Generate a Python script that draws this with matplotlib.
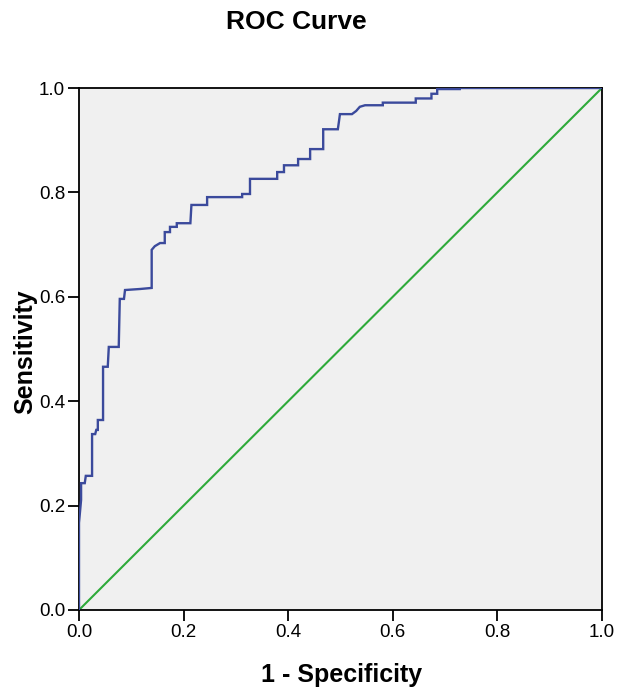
import matplotlib
matplotlib.use("Agg")
import matplotlib.pyplot as plt

# ROC step vertices (1 - specificity, sensitivity)
fpr = [0.000, 0.000, 0.004, 0.004, 0.011, 0.013, 0.025, 0.025, 0.031, 0.033,
       0.036, 0.036, 0.046, 0.046, 0.055, 0.057, 0.076, 0.078, 0.086, 0.088,
       0.117, 0.139, 0.139, 0.145, 0.155, 0.164, 0.164, 0.174, 0.174, 0.187,
       0.187, 0.213, 0.215, 0.245, 0.245, 0.312, 0.312, 0.327, 0.327, 0.379,
       0.379, 0.392, 0.392, 0.419, 0.419, 0.442, 0.442, 0.467, 0.467, 0.495,
       0.497, 0.499, 0.522, 0.530, 0.537, 0.547, 0.581, 0.581, 0.644, 0.644,
       0.674, 0.674, 0.685, 0.685, 0.728, 0.728, 1.000]
tpr = [0.000, 0.167, 0.211, 0.243, 0.243, 0.257, 0.257, 0.337, 0.337, 0.345,
       0.345, 0.364, 0.364, 0.466, 0.466, 0.504, 0.504, 0.596, 0.596, 0.613,
       0.615, 0.617, 0.690, 0.697, 0.703, 0.703, 0.724, 0.724, 0.734, 0.734,
       0.741, 0.741, 0.776, 0.776, 0.791, 0.791, 0.797, 0.797, 0.826, 0.826,
       0.839, 0.839, 0.852, 0.852, 0.864, 0.864, 0.883, 0.883, 0.921, 0.921,
       0.935, 0.950, 0.950, 0.956, 0.964, 0.967, 0.967, 0.972, 0.972, 0.980,
       0.980, 0.989, 0.989, 0.998, 0.998, 1.000, 1.000]
ref_line = [0.0, 1.0]
ticks = [0.0, 0.2, 0.4, 0.6, 0.8, 1.0]

plt.rcParams["font.family"] = ["Liberation Sans", "DejaVu Sans"]

fig = plt.figure(figsize=(6.24, 6.92), dpi=100, facecolor="white")
ax = fig.add_axes([0.1266, 0.1185, 0.838, 0.7543])
ax.set_facecolor("#f0f0f0")

# reference diagonal + ROC curve
ax.plot(ref_line, ref_line, color="#2eaa3a", linewidth=1.5, zorder=2)
ax.plot(fpr, tpr, color="#3b4a9c", linewidth=1.7, zorder=3,
        solid_joinstyle="miter")

ax.set_xlim(0, 1)
ax.set_ylim(0, 1)
ax.set_xticks(ticks)
ax.set_yticks(ticks)
ax.set_xticklabels([f"{t:.1f}" for t in ticks])
ax.set_yticklabels([f"{t:.1f}" for t in ticks])
ax.tick_params(direction="out", length=8, width=1.3, labelsize=13.5,
               colors="black", pad=2)
for spine in ax.spines.values():
    spine.set_edgecolor("black")
    spine.set_linewidth(1.3)

ax.set_xlabel("1 - Specificity", fontsize=18, fontweight="bold")
ax.xaxis.label.set_verticalalignment("baseline")
ax.xaxis.set_label_coords(0.503, -0.138)
ax.set_ylabel("Sensitivity", fontsize=18, fontweight="bold")
ax.yaxis.set_label_coords(-0.079, 0.494)

fig.text(0.475, 0.958, "ROC Curve", ha="center", va="baseline",
         fontsize=19, fontweight="bold")

fig.savefig("out.png", dpi=100, facecolor="white")
